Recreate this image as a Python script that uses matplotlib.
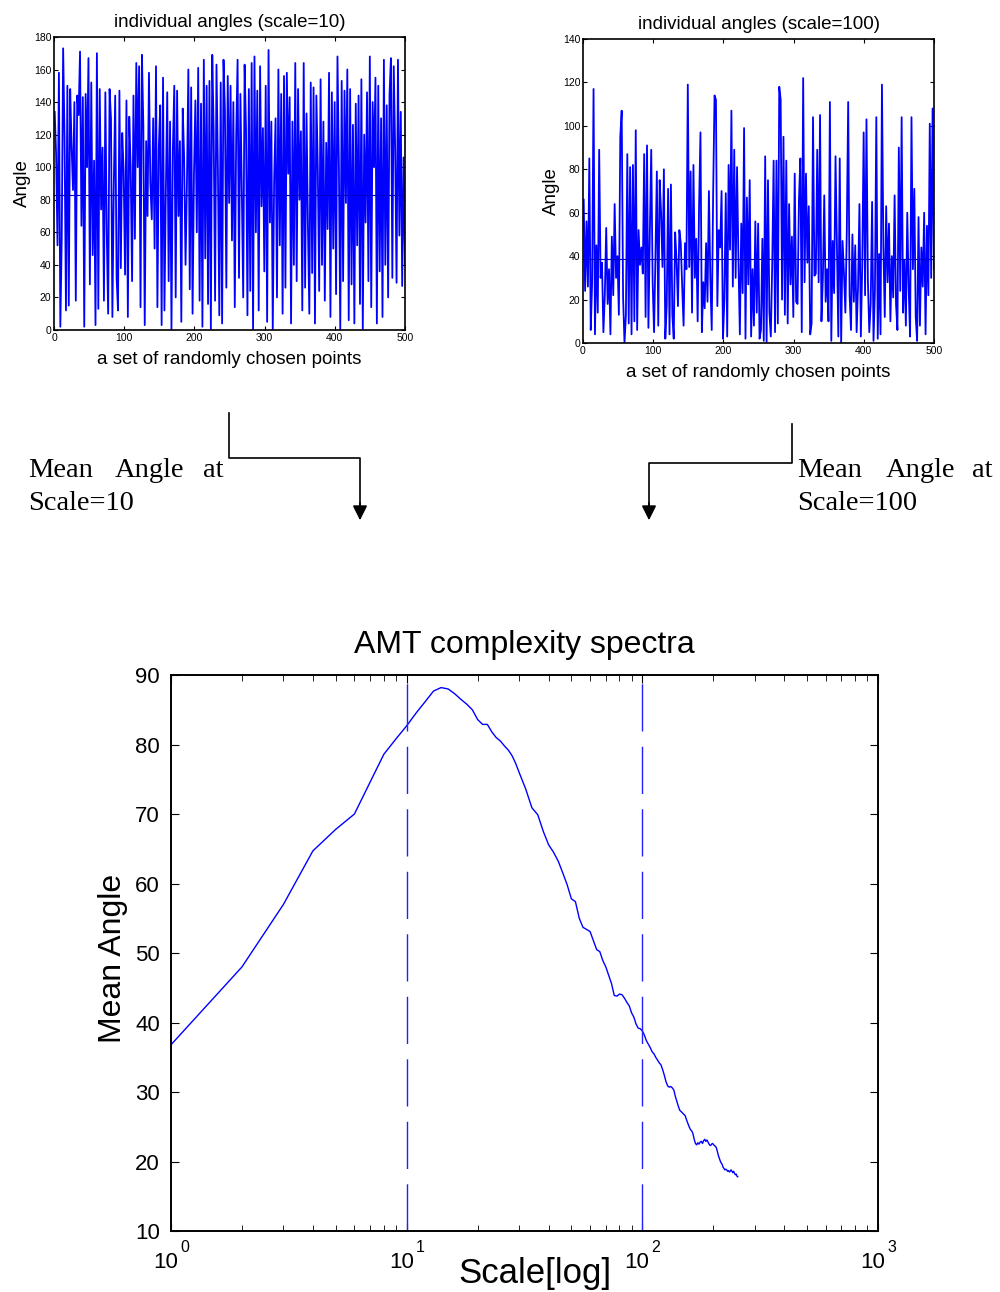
import matplotlib.pyplot as plt
import matplotlib.transforms as mtransforms
import numpy as np

plt.rcParams['font.family'] = ['Liberation Sans', 'DejaVu Sans']

# angles of randomly chosen points, scale = 10
angles_s10 = [
    134, 108, 52, 158, 2, 56, 173, 118, 12, 150, 15, 148, 113, 86, 140, 18, 144, 132, 171, 64, 143, 2, 145, 100, 167,
    28, 152, 46, 104, 3, 170, 13, 148, 74, 112, 18, 146, 60, 10, 148, 130, 8, 88, 144, 32, 12, 147, 38, 121, 98,
    34, 141, 8, 131, 100, 30, 144, 56, 164, 100, 162, 14, 169, 126, 3, 116, 70, 158, 90, 68, 130, 50, 162, 14, 112,
    138, 3, 155, 12, 85, 146, 30, 128, 0, 111, 150, 20, 147, 70, 116, 5, 136, 106, 40, 90, 160, 25, 149, 10, 96,
    141, 60, 161, 18, 139, 2, 166, 44, 150, 16, 153, 0, 169, 122, 18, 163, 100, 9, 152, 4, 166, 135, 26, 156, 78,
    150, 55, 140, 14, 119, 166, 32, 145, 86, 20, 163, 123, 9, 148, 24, 164, 0, 168, 60, 147, 12, 162, 76, 124, 36,
    150, 5, 172, 66, 128, 0, 93, 130, 20, 160, 52, 145, 10, 156, 26, 158, 96, 143, 4, 128, 40, 164, 30, 148, 80,
    122, 12, 164, 26, 133, 64, 10, 152, 35, 149, 4, 144, 100, 24, 154, 40, 128, 18, 115, 62, 158, 8, 146, 50, 140,
    22, 168, 102, 0, 153, 30, 147, 78, 160, 6, 148, 28, 126, 4, 139, 52, 144, 16, 154, 0, 120, 66, 146, 30, 168,
    14, 140, 100, 155, 4, 150, 36, 130, 8, 166, 40, 138, 20, 145, 167, 32, 162, 112, 29, 166, 58, 134, 27, 106, 40,
]
# angles of randomly chosen points, scale = 100
angles_s100 = [
    66, 24, 56, 26, 85, 6, 28, 117, 4, 45, 14, 89, 30, 37, 5, 22, 53, 18, 34, 4, 49, 22, 64, 30, 40,
    13, 95, 107, 21, 0, 13, 87, 9, 81, 4, 82, 10, 98, 6, 52, 36, 44, 32, 87, 12, 91, 7, 50, 89, 28,
    5, 40, 79, 8, 75, 60, 35, 80, 2, 17, 71, 4, 73, 13, 2, 51, 38, 17, 52, 46, 26, 8, 46, 34, 119,
    35, 79, 14, 82, 30, 48, 10, 63, 97, 5, 28, 16, 46, 19, 70, 30, 6, 68, 114, 112, 17, 52, 44, 70, 2,
    20, 69, 3, 82, 43, 107, 26, 89, 30, 81, 38, 4, 55, 23, 99, 2, 67, 27, 75, 3, 34, 8, 56, 14, 55,
    2, 6, 48, 1, 86, 0, 75, 14, 3, 36, 84, 5, 84, 9, 118, 112, 20, 95, 13, 84, 9, 64, 27, 49, 12,
    78, 19, 18, 66, 85, 5, 122, 28, 78, 37, 63, 4, 9, 104, 31, 32, 89, 28, 105, 10, 30, 68, 19, 34, 10,
    111, 1, 47, 23, 86, 45, 3, 85, 0, 47, 32, 14, 51, 111, 22, 6, 50, 19, 45, 5, 26, 64, 3, 36, 97,
    22, 103, 29, 5, 18, 65, 1, 24, 104, 2, 41, 4, 119, 45, 12, 63, 28, 55, 10, 40, 21, 68, 18, 6, 90,
    24, 104, 14, 38, 8, 60, 25, 3, 104, 34, 71, 12, 1, 58, 8, 44, 26, 60, 4, 54, 22, 101, 30, 108, 34,
]
mean_s10 = 82.7
mean_s100 = 38.8

# AMT complexity spectrum
scales = list(range(1, 31)) + list(range(32, 256, 2))
mean_angle = [
    36.8, 48.0, 57.0, 64.7, 67.8, 70.0, 74.6, 78.6, 80.8, 82.7,
    84.6, 86.2, 87.7, 88.2, 88.0, 87.3, 86.5, 85.8, 85.0, 83.6,
    82.9, 82.9, 81.8, 81.0, 80.5, 79.8, 79.2, 78.4, 77.3, 76.0,
    73.6, 70.9, 69.9, 67.5, 65.6, 64.5, 63.2, 61.5, 59.8, 57.8,
    57.4, 55.0, 53.7, 53.4, 53.1, 51.8, 50.5, 50.2, 48.9, 48.0,
    46.8, 45.6, 43.9, 43.8, 44.1, 44.0, 43.5, 42.9, 42.4, 41.4,
    40.8, 39.8, 39.2, 39.1, 38.8, 38.2, 37.4, 36.9, 36.4, 35.8,
    35.5, 35.0, 34.6, 34.2, 33.9, 33.2, 32.4, 31.5, 30.9, 30.7,
    30.8, 30.6, 30.3, 29.4, 28.7, 28.0, 27.4, 27.2, 27.0, 26.8,
    26.6, 26.0, 25.5, 25.0, 24.6, 24.4, 24.0, 23.2, 22.6, 22.4,
    22.7, 22.5, 22.8, 22.9, 22.6, 23.0, 23.2, 22.9, 23.1, 22.8,
    22.5, 22.3, 22.4, 22.6, 22.5, 22.3, 22.2, 22.0, 21.5, 20.9,
    20.5, 20.1, 19.8, 19.6, 19.2, 19.0, 18.8, 18.9, 18.8, 18.6,
    18.7, 18.5, 18.6, 18.8, 18.6, 18.4, 18.6, 18.3, 18.1, 18.2,
    17.9, 17.8,
]
marked_scales = [10, 100]
decades = [0, 1, 2, 3]

fig = plt.figure(figsize=(10, 12.92), dpi=100)


def small_panel(rect, vals, mean, ymax, title):
    ax = fig.add_axes(rect)
    x = np.linspace(1, 500, len(vals))
    ax.plot(x, vals, color='#0000ff', lw=1.3)
    ax.plot([0, 500], [mean, mean], color='#0000cc', lw=0.8)
    ax.set_xlim(0, 500)
    ax.set_ylim(0, ymax)
    ax.set_xticks(range(0, 501, 100))
    ax.set_yticks(range(0, ymax + 1, 20))
    ax.tick_params(direction='in', top=True, right=True, labelsize=7.5, length=3, pad=2)
    ax.set_title(title, fontsize=13.5, pad=7)
    ax.set_xlabel('a set of randomly chosen points', fontsize=13.5, labelpad=6)
    ax.set_ylabel('Angle', fontsize=13.5, labelpad=2)
    for s in ax.spines.values():
        s.set_linewidth(1.2)
    return ax


small_panel([0.054, 0.7446, 0.351, 0.2268], angles_s10, mean_s10, 180,
            'individual angles (scale=10)')
small_panel([0.583, 0.7345, 0.351, 0.2353], angles_s100, mean_s100, 140,
            'individual angles (scale=100)')

# arrows and labels in pixel coordinates of the figure
ov = fig.add_axes([0, 0, 1, 1], zorder=-1)
ov.set_xlim(0, 1000)
ov.set_ylim(1292, 0)
ov.axis('off')
ov.plot([229, 229, 360, 360], [413, 458, 458, 505], color='black', lw=1.2)
ov.annotate('', xy=(360, 523), xytext=(360, 500),
            arrowprops=dict(arrowstyle='-|>', color='black', lw=1.2, mutation_scale=22))
ov.plot([792, 792, 649, 649], [424, 463, 463, 505], color='black', lw=1.2)
ov.annotate('', xy=(649, 523), xytext=(649, 500),
            arrowprops=dict(arrowstyle='-|>', color='black', lw=1.2, mutation_scale=22))
serif = dict(family='Liberation Serif', fontsize=20.5, va='baseline')
for word, xw in [('Mean', 28), ('Angle', 115), ('at', 203)]:
    ov.text(xw, 477, word, **serif)
ov.text(28, 510, 'Scale=10', **serif)
for word, xw in [('Mean', 797), ('Angle', 886), ('at', 972)]:
    ov.text(xw, 477, word, **serif)
ov.text(797, 510, 'Scale=100', **serif)

# bottom: complexity spectrum
ax = fig.add_axes([0.171, 0.0472, 0.707, 0.4303])
ax.semilogx(scales, mean_angle, color='#0000ff', lw=1.0)
for s in marked_scales:
    ax.axvline(s, color='#2020ff', lw=1.0, dashes=(34, 11))
ax.set_xlim(1, 1000)
ax.set_ylim(10, 90)
ax.set_yticks(range(10, 91, 10))
ax.tick_params(which='both', direction='in', top=True, right=True)
ax.tick_params(which='major', labelsize=16, length=6, pad=8)
ax.tick_params(which='minor', length=4)
ax.xaxis.set_major_formatter(plt.NullFormatter())
ax.xaxis.set_minor_formatter(plt.NullFormatter())

# MATLAB style decade labels: "10" with a separate exponent
base_tr = mtransforms.blended_transform_factory(ax.transData, ax.transAxes)
for d in decades:
    tb = base_tr + mtransforms.ScaledTranslation(7 / 100, 0, fig.dpi_scale_trans)
    ax.text(10 ** d, -0.0665, '10', transform=tb, ha='right', va='baseline', fontsize=16)
    te = base_tr + mtransforms.ScaledTranslation(9 / 100, 0, fig.dpi_scale_trans)
    ax.text(10 ** d, -0.038, str(d), transform=te, ha='left', va='baseline', fontsize=11.5)

ax.set_title('AMT complexity spectra', fontsize=23, pad=16)
ax.set_xlabel('Scale[log]', fontsize=25)
ax.xaxis.set_label_coords(0.515, -0.046)
ax.set_ylabel('Mean Angle', fontsize=23)
ax.yaxis.set_label_coords(-0.061, 0.49)
for s in ax.spines.values():
    s.set_linewidth(1.4)

fig.savefig('out.png', dpi=100)
